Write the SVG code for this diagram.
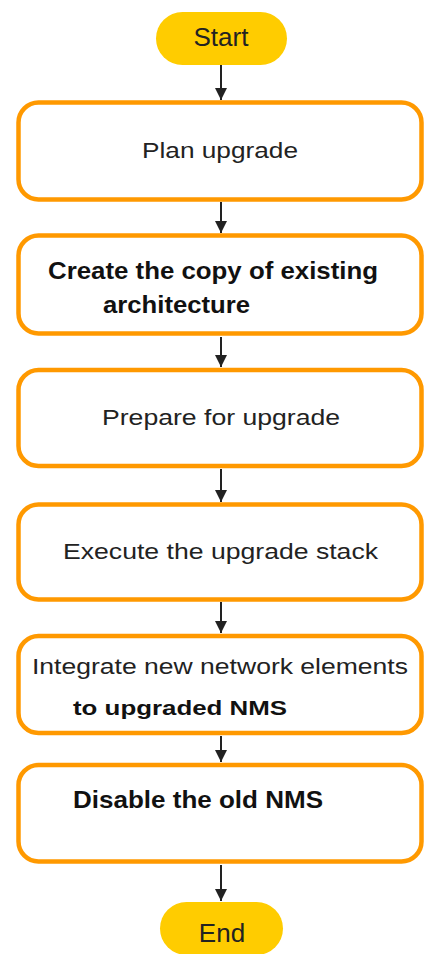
<svg xmlns="http://www.w3.org/2000/svg" width="424" height="954" viewBox="0 0 424 954">
<style>
.box{fill:#fff;stroke:#FF9900;stroke-width:4.5}
.pill{fill:#FFCC00;stroke:none}
.t{font-family:"Liberation Sans",Arial,sans-serif;font-size:22px;fill:#222}
.b{font-family:"Liberation Sans",Arial,sans-serif;font-weight:bold;fill:#111}
.p{font-family:"Liberation Sans",Arial,sans-serif;font-size:26px;fill:#222;text-anchor:middle}
.c{stroke:#222;stroke-width:2;fill:none;marker-end:url(#ah)}
</style>
<defs>
<marker id="ah" markerUnits="userSpaceOnUse" viewBox="0 0 10 10" markerWidth="12" markerHeight="13" refX="10" refY="5" orient="auto">
<path d="M0,0 L10,5 L0,10 z" fill="#222"/>
</marker>
</defs>
<rect width="424" height="954" fill="#fff"/>
<g id="connectors">
<line class="c" x1="221" y1="65" x2="221" y2="100"/>
<line class="c" x1="221" y1="202" x2="221" y2="233"/>
<line class="c" x1="221" y1="337" x2="221" y2="367"/>
<line class="c" x1="221" y1="469" x2="221" y2="502"/>
<line class="c" x1="221" y1="602" x2="221" y2="633"/>
<line class="c" x1="221" y1="736" x2="221" y2="762"/>
<line class="c" x1="221" y1="865" x2="221" y2="901"/>
</g>
<g id="start">
<rect class="pill" x="156" y="12" width="131" height="53" rx="26.5"/>
<text class="p" x="221" y="46">Start</text>
</g>
<g id="plan">
<rect class="box" x="18.5" y="102.5" width="403" height="97" rx="20"/>
<text class="t" x="142" y="158" textLength="156" lengthAdjust="spacingAndGlyphs">Plan upgrade</text>
</g>
<g id="copy">
<rect class="box" x="18.5" y="235.5" width="403" height="98" rx="20"/>
<text class="b" x="48" y="279" font-size="24" textLength="330" lengthAdjust="spacingAndGlyphs">Create the copy of existing</text>
<text class="b" x="103" y="313" font-size="24" textLength="147" lengthAdjust="spacingAndGlyphs">architecture</text>
</g>
<g id="prepare">
<rect class="box" x="18.5" y="370" width="403" height="96" rx="20"/>
<text class="t" x="102" y="425" textLength="238" lengthAdjust="spacingAndGlyphs">Prepare for upgrade</text>
</g>
<g id="execute">
<rect class="box" x="18.5" y="504.5" width="403" height="95" rx="20"/>
<text class="t" x="63" y="559" font-size="23" textLength="315" lengthAdjust="spacingAndGlyphs">Execute the upgrade stack</text>
</g>
<g id="integrate">
<rect class="box" x="18.5" y="636" width="403" height="97" rx="20"/>
<text class="t" x="32" y="674" textLength="376" lengthAdjust="spacingAndGlyphs">Integrate new network elements</text>
<text class="b" x="73" y="715" font-size="21" textLength="214" lengthAdjust="spacingAndGlyphs">to upgraded NMS</text>
</g>
<g id="disable">
<rect class="box" x="18.5" y="765" width="403" height="96.5" rx="20"/>
<text class="b" x="73" y="808" font-size="24" textLength="250" lengthAdjust="spacingAndGlyphs">Disable the old NMS</text>
</g>
<g id="end">
<rect class="pill" x="160" y="902" width="123" height="53" rx="26.5"/>
<text class="p" x="222" y="942">End</text>
</g>
</svg>
